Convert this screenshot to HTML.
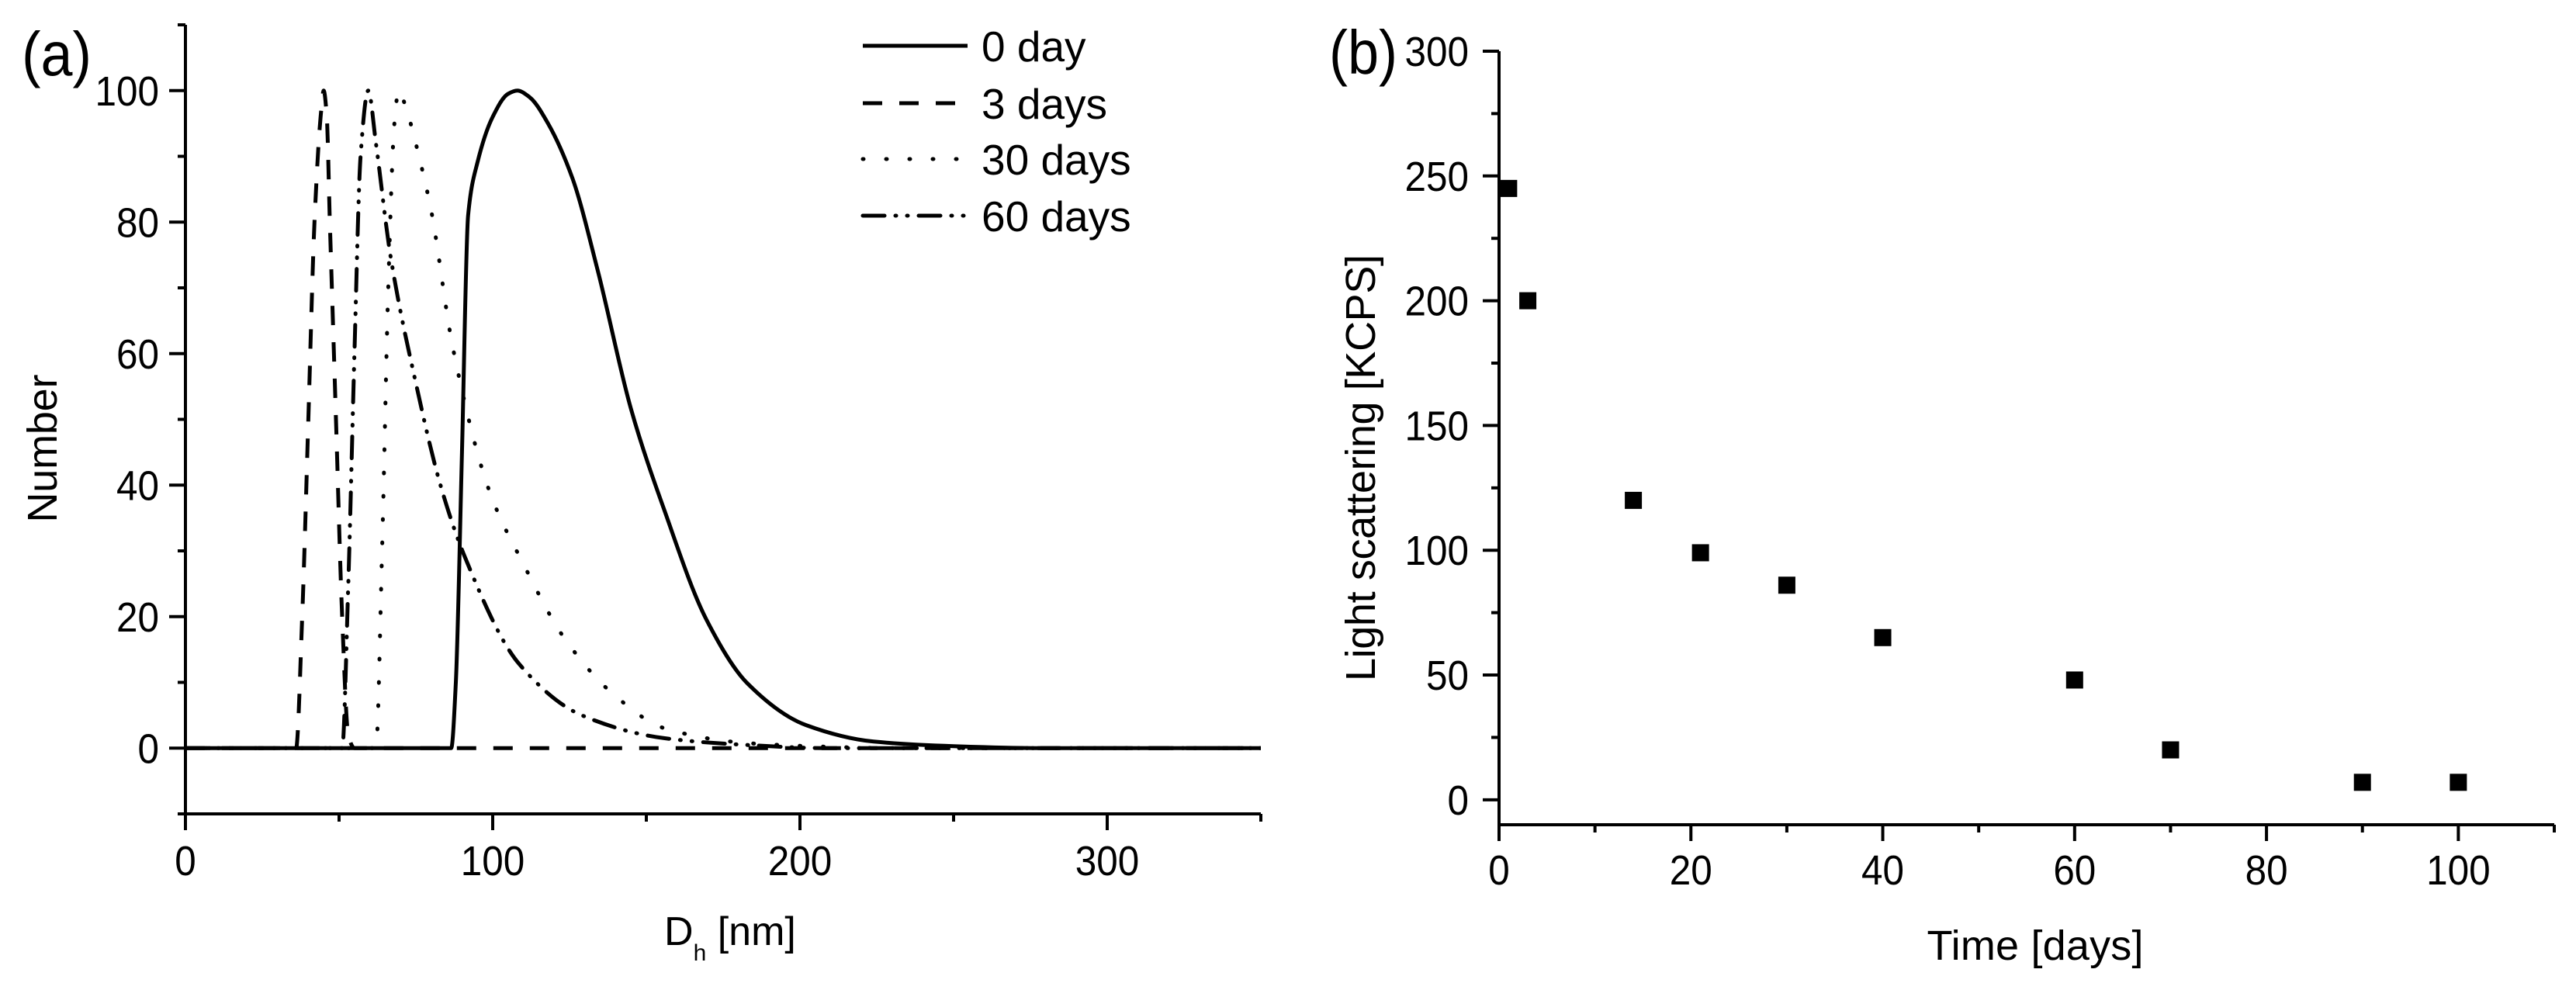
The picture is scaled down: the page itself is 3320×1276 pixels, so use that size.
<!DOCTYPE html>
<html><head><meta charset="utf-8"><style>
html,body{margin:0;padding:0;background:#fff;}
svg{display:block;}
text{font-family:"Liberation Sans",sans-serif;fill:#000;}
</style></head><body>
<svg id="fig" width="3320" height="1276" viewBox="0 0 3320 1276" xmlns="http://www.w3.org/2000/svg">
<g id="pa"></g>
<g id="pb"></g>
</svg>
<script>
// ---- Panel (a) data ----
const day0X = [0,85,86.5,88,90,92,95,100,105,108,112,118,126,134,145,156,169.5,183,202,224,250,280,350];
const day0Y = [0,0,0,10,45,81,89,96,99.5,100,99,95,86.6,73,51.6,36,19.6,9.8,3.5,1,0.3,0,0];
const day3X = [0,36,38,40,42,44,45,46,47,49,51,53,55,350];
const day3Y = [0,0,20,50,80,96,100,96,80,50,20,2,0,0];
const day30X = [0,62,64,66,68,69.4,72,76,80,87,99,110,123.5,140,156,182,210,230,350];
const day30Y = [0,0,30,70,95,100,97,90,81.7,61,39,28,16.6,7.9,3,0.8,0.2,0,0];
const day60X = [0,51,53,55,57,59.5,62,66.7,75,83,91,108.6,129,156,182,210,350];
const day60Y = [0,0,25,60,90,100,92,75,55.5,40,29,12.8,5,1.5,0.5,0,0];
const aXTicks = [0,100,200,300];
const aYTicks = [0,20,40,60,80,100];
const legendLabels = ["0 day","3 days","30 days","60 days"];
// ---- Panel (b) data ----
const timeDays = [1,3,14,21,30,40,60,70,90,100];
const scatterKCPS = [245,200,120,99,86,65,48,20,7,7];
const bXTicks = [0,20,40,60,80,100];
const bYTicks = [0,50,100,150,200,250,300];

const NS = "http://www.w3.org/2000/svg";
function mk(parent, tag, attrs, txt){
  const e = document.createElementNS(NS, tag);
  for (const k in attrs) e.setAttribute(k, attrs[k]);
  if (txt !== undefined) e.textContent = txt;
  parent.appendChild(e);
  return e;
}
const axA = {x0:239, x1:1625, xmin:0, xmax:350, y0:1049, y1:32, ymin:-10, ymax:110};
const axB = {x0:1932, x1:3292, xmin:0, xmax:110, y0:1063, y1:66, ymin:-10, ymax:300};
function sx(a,v){return a.x0 + (v-a.xmin)/(a.xmax-a.xmin)*(a.x1-a.x0);}
function sy(a,v){return a.y0 - (v-a.ymin)/(a.ymax-a.ymin)*(a.y0-a.y1);}

// monotone cubic path through pixel points
function monoPath(px, py){
  const n = px.length, d=[], m=new Array(n);
  for (let i=0;i<n-1;i++) d.push((py[i+1]-py[i])/(px[i+1]-px[i]));
  m[0]=d[0]; m[n-1]=d[n-2];
  for (let i=1;i<n-1;i++){
    if (d[i-1]*d[i]<=0) m[i]=0;
    else { const h0=px[i]-px[i-1], h1=px[i+1]-px[i];
      m[i]=3*(h0+h1)/((2*h1+h0)/d[i-1]+(h1+2*h0)/d[i]); }
  }
  let s='M'+px[0].toFixed(1)+','+py[0].toFixed(1);
  for (let i=0;i<n-1;i++){
    const h=px[i+1]-px[i];
    s+='C'+(px[i]+h/3).toFixed(1)+','+(py[i]+m[i]*h/3).toFixed(1)+' '+
       (px[i+1]-h/3).toFixed(1)+','+(py[i+1]-m[i+1]*h/3).toFixed(1)+' '+
       px[i+1].toFixed(1)+','+py[i+1].toFixed(1);
  }
  return s;
}

function drawAxes(g, a, xMaj, xMinStep, yMaj, yMinStep, yMinStart, labYRight, labXBase){
  const ax = mk(g,'path',{d:`M${a.x0},${a.y1} V${a.y0} H${a.x1}`,fill:'none',stroke:'#000','stroke-width':4});
   
  for (let v=yMinStart; v<=a.ymax+1e-9; v+=yMinStep){
    const y=sy(a,v); const major = yMaj.includes(Math.round(v));
    const t = mk(g,'line',{x1:a.x0-(major?21:10),x2:a.x0,y1:y,y2:y,stroke:'#000','stroke-width':4});
     
  }
  yMaj.forEach(v=>{
    const s=String(v);
    const t = mk(g,'text',{x:labYRight,y:sy(a,v)+19,'text-anchor':'end','font-size':54,textLength:27.5*s.length,lengthAdjust:'spacingAndGlyphs'},s);
     
  });
  for (let v=a.xmin; v<=a.xmax+1e-9; v+=xMinStep){
    const x=sx(a,v); const major = xMaj.includes(Math.round(v));
    const t = mk(g,'line',{x1:x,x2:x,y1:a.y0,y2:a.y0+(major?21:10),stroke:'#000','stroke-width':4});
     
  }
  xMaj.forEach(v=>{
    const s=String(v);
    const t = mk(g,'text',{x:sx(a,v),y:labXBase,'text-anchor':'middle','font-size':54,textLength:27.5*s.length,lengthAdjust:'spacingAndGlyphs'},s);
     
  });
}

// Panel a
const ga = document.getElementById('pa');
drawAxes(ga, axA, aXTicks, 50, aYTicks, 10, -10, 205, 1128);
const styles = [
  {dash:'none'},
  {dash:'25 22'},
  {dash:'1 29', cap:'round'},
  {dash:'28 14 1 14 1 14', cap:'round'}
];
const seriesX=[day0X,day3X,day30X,day60X], seriesY=[day0Y,day3Y,day30Y,day60Y];
const names=['curve-0-day','curve-3-days','curve-30-days','curve-60-days'];
seriesX.forEach((xs,i)=>{
  const px = xs.map(x=>sx(axA,x)), py = seriesY[i].map(y=>sy(axA,y));
  const p = mk(ga,'path',{d:monoPath(px,py),fill:'none',stroke:'#000','stroke-width':5,'stroke-dasharray':styles[i].dash,'stroke-linecap':styles[i].cap||'butt','stroke-linejoin':'round'});
  
  
});
const lg = mk(ga,'g',{});
 
const legY=[59,133,205,278];
legendLabels.forEach((lab,i)=>{
  const l = mk(lg,'line',{x1:1112,x2:1247,y1:legY[i],y2:legY[i],stroke:'#000','stroke-width':5,'stroke-dasharray':styles[i].dash,'stroke-linecap':styles[i].cap||'butt'});
   
  const t = mk(lg,'text',{x:1265,y:legY[i]+20,'font-size':55},lab);
   
});
const la = mk(ga,'text',{x:28,y:97,'font-size':80,textLength:90,lengthAdjust:'spacingAndGlyphs'},'(a)');
 
const yta = mk(ga,'text',{x:0,y:0,'font-size':54,'text-anchor':'middle',transform:'translate(73,578) rotate(-90)',textLength:191},'Number');
 
const xta = mk(ga,'text',{x:856,y:1218,'font-size':52},'');
 
mk(xta,'tspan',{},'D');
mk(xta,'tspan',{'font-size':30,dy:20},'h');
mk(xta,'tspan',{dy:-20},' [nm]');

// Panel b
const gb = document.getElementById('pb');
drawAxes(gb, axB, bXTicks, 10, bYTicks, 25, 0, 1893, 1140);
timeDays.forEach((t,i)=>{
  const r = mk(gb,'rect',{x:sx(axB,t)-11,y:sy(axB,scatterKCPS[i])-11,width:22,height:22,fill:'#000'});
   
});
const lb = mk(gb,'text',{x:1713,y:95,'font-size':80,textLength:88,lengthAdjust:'spacingAndGlyphs'},'(b)');
 
const ytb = mk(gb,'text',{x:0,y:0,'font-size':54,'text-anchor':'middle',transform:'translate(1772,603) rotate(-90)',textLength:550},'Light scattering [KCPS]');
 
const xtb = mk(gb,'text',{x:2623,y:1237,'font-size':54,'text-anchor':'middle',textLength:279},'Time [days]');
 
</script>
</body></html>
